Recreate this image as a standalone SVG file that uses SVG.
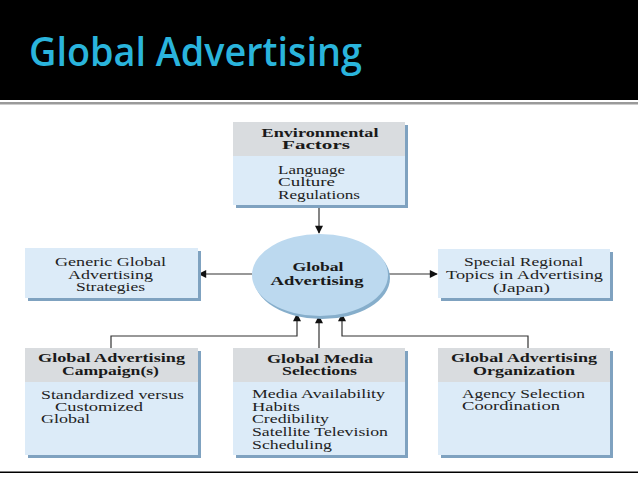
<svg xmlns="http://www.w3.org/2000/svg" width="638" height="479" viewBox="0 0 638 479">
<style>
.hdr{font-family:"Liberation Serif","Times New Roman",serif;font-weight:bold;font-size:12.5px;fill:#1a1a1a;text-anchor:middle}
.bd{font-family:"Liberation Serif","Times New Roman",serif;font-size:13px;fill:#222}
.ctr{text-anchor:middle}
.shadow{fill:#7fa2c0}
.body{fill:#dcebf8}
.head{fill:#d9dcdf}
.conn{fill:none;stroke:#333;stroke-width:1.2}
</style>
<defs>
<marker id="arr" viewBox="0 0 10 10" refX="9" refY="5" markerWidth="9" markerHeight="8" markerUnits="userSpaceOnUse" orient="auto">
<path d="M0,0 L10,5 L0,10 z" fill="#111"/>
</marker>
</defs>
<rect x="0" y="0" width="638" height="479" fill="#ffffff"/>
<rect x="0" y="0" width="638" height="100" fill="#000"/>
<rect x="0" y="102" width="638" height="2.5" fill="#9a9a9a"/>
<text x="29" y="66" font-family="'Open Sans','Lato',sans-serif" font-weight="600" font-size="40" fill="#2ab4dc" textLength="333" lengthAdjust="spacingAndGlyphs">Global Advertising</text>
<rect x="0" y="471.5" width="638" height="1.5" fill="#000"/>

<g id="connectors">
<line class="conn" x1="319" y1="207" x2="319" y2="233" marker-end="url(#arr)"/>
<line class="conn" x1="252" y1="274" x2="199" y2="274" marker-end="url(#arr)"/>
<line class="conn" x1="388" y1="274" x2="437" y2="274" marker-end="url(#arr)"/>
<polyline class="conn" points="111,348 111,336 297,336 297,314" marker-end="url(#arr)"/>
<line class="conn" x1="319" y1="348" x2="319" y2="316" marker-end="url(#arr)"/>
<polyline class="conn" points="528,348 528,336 342,336 342,314" marker-end="url(#arr)"/>
</g>

<g id="env">
<rect class="shadow" x="236" y="125" width="172" height="83"/>
<rect class="body" x="233" y="122" width="172" height="83"/>
<rect class="head" x="233" y="122" width="172" height="34"/>
<text class="hdr" x="320" y="137" textLength="117" lengthAdjust="spacingAndGlyphs">Environmental</text>
<text class="hdr" x="316" y="149" textLength="68" lengthAdjust="spacingAndGlyphs">Factors</text>
<text class="bd" x="278" y="174" textLength="67" lengthAdjust="spacingAndGlyphs">Language</text>
<text class="bd" x="278" y="186" textLength="57" lengthAdjust="spacingAndGlyphs">Culture</text>
<text class="bd" x="278" y="199" textLength="82" lengthAdjust="spacingAndGlyphs">Regulations</text>
</g>

<g id="global">
<ellipse cx="322" cy="278" rx="68" ry="41" fill="#86aecb"/>
<ellipse cx="320" cy="275" rx="68" ry="41" fill="#bcd9ef"/>
<text class="hdr" x="318" y="271" textLength="51" lengthAdjust="spacingAndGlyphs">Global</text>
<text class="hdr" x="317" y="285" textLength="93" lengthAdjust="spacingAndGlyphs">Advertising</text>
</g>

<g id="generic">
<rect class="shadow" x="28" y="251" width="173" height="50"/>
<rect class="body" x="25" y="248" width="173" height="50"/>
<text class="bd ctr" x="110.5" y="266" textLength="111" lengthAdjust="spacingAndGlyphs">Generic Global</text>
<text class="bd ctr" x="110.5" y="279" textLength="85" lengthAdjust="spacingAndGlyphs">Advertising</text>
<text class="bd ctr" x="110.5" y="291" textLength="69" lengthAdjust="spacingAndGlyphs">Strategies</text>
</g>

<g id="special">
<rect class="shadow" x="441" y="252" width="172" height="49"/>
<rect class="body" x="438" y="249" width="172" height="49"/>
<text class="bd ctr" x="523.5" y="266" textLength="119" lengthAdjust="spacingAndGlyphs">Special Regional</text>
<text class="bd ctr" x="524.5" y="279" textLength="157" lengthAdjust="spacingAndGlyphs">Topics in Advertising</text>
<text class="bd ctr" x="521.5" y="292" textLength="57" lengthAdjust="spacingAndGlyphs">(Japan)</text>
</g>

<g id="campaign">
<rect class="shadow" x="28" y="351" width="173" height="107"/>
<rect class="body" x="25" y="348" width="173" height="107"/>
<rect class="head" x="25" y="348" width="173" height="34"/>
<text class="hdr" x="111.5" y="362" textLength="147" lengthAdjust="spacingAndGlyphs">Global Advertising</text>
<text class="hdr" x="110.5" y="375" textLength="97" lengthAdjust="spacingAndGlyphs">Campaign(s)</text>
<text class="bd" x="41" y="399" textLength="143" lengthAdjust="spacingAndGlyphs">Standardized versus</text>
<text class="bd" x="55" y="411" textLength="88" lengthAdjust="spacingAndGlyphs">Customized</text>
<text class="bd" x="41" y="423" textLength="49" lengthAdjust="spacingAndGlyphs">Global</text>
</g>

<g id="media">
<rect class="shadow" x="236" y="351" width="172" height="107"/>
<rect class="body" x="233" y="348" width="172" height="107"/>
<rect class="head" x="233" y="348" width="172" height="34"/>
<text class="hdr" x="320" y="363" textLength="106" lengthAdjust="spacingAndGlyphs">Global Media</text>
<text class="hdr" x="319.5" y="375" textLength="75" lengthAdjust="spacingAndGlyphs">Selections</text>
<text class="bd" x="252" y="398" textLength="133" lengthAdjust="spacingAndGlyphs">Media Availability</text>
<text class="bd" x="252" y="411" textLength="48" lengthAdjust="spacingAndGlyphs">Habits</text>
<text class="bd" x="252" y="423" textLength="77" lengthAdjust="spacingAndGlyphs">Credibility</text>
<text class="bd" x="252" y="436" textLength="136" lengthAdjust="spacingAndGlyphs">Satellite Television</text>
<text class="bd" x="252" y="449" textLength="80" lengthAdjust="spacingAndGlyphs">Scheduling</text>
</g>

<g id="organization">
<rect class="shadow" x="441" y="351" width="172" height="107"/>
<rect class="body" x="438" y="348" width="172" height="107"/>
<rect class="head" x="438" y="348" width="172" height="34"/>
<text class="hdr" x="524" y="362" textLength="146" lengthAdjust="spacingAndGlyphs">Global Advertising</text>
<text class="hdr" x="524" y="375" textLength="102" lengthAdjust="spacingAndGlyphs">Organization</text>
<text class="bd" x="462" y="398" textLength="123" lengthAdjust="spacingAndGlyphs">Agency Selection</text>
<text class="bd" x="462" y="410" textLength="98" lengthAdjust="spacingAndGlyphs">Coordination</text>
</g>
</svg>
